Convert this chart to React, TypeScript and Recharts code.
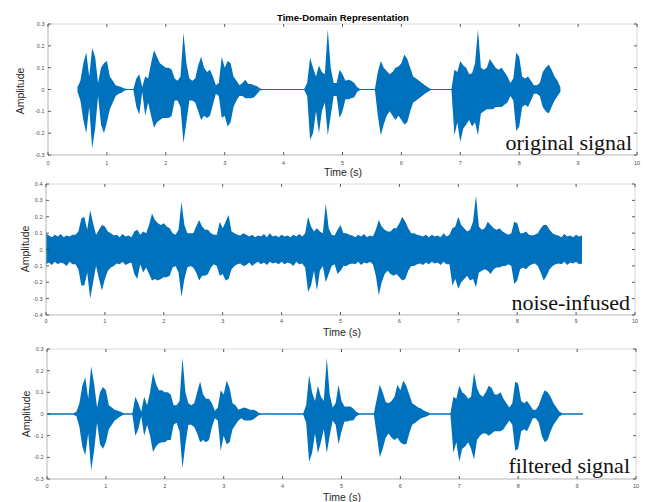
import { AreaChart, Area, XAxis, YAxis, ReferenceLine } from "recharts"

// sample spacing of the envelope arrays (seconds)
const STEP = 0.05
const timeTicks = [0, 1, 2, 3, 4, 5, 6, 7, 8, 9, 10]
const ampTicks3 = [-0.3, -0.2, -0.1, 0, 0.1, 0.2, 0.3]
const ampTicks4 = [-0.4, -0.3, -0.2, -0.1, 0, 0.1, 0.2, 0.3, 0.4]

// original signal: upper / lower envelope, one value every 0.05 s
const origHi = [
    null, null, null, null, null, null, null, null, null, null,
    0.01, 0.04, 0.12, 0.17, 0.06, 0.19, 0.15, 0.03, 0.10, 0.12,
    0.13, 0.06, 0.04, 0.02, 0.015, 0.01, 0.005, 0.002, 0.002, 0.002,
    0.05, 0.07, 0.01, 0.06, 0.05, 0.12, 0.18, 0.15, 0.12, 0.11,
    0.10, 0.10, 0.09, 0.05, 0.04, 0.06, 0.26, 0.12, 0.05, 0.04,
    0.05, 0.11, 0.15, 0.10, 0.08, 0.09, 0.06, 0.02, 0.03, 0.15,
    0.10, 0.13, 0.12, 0.06, 0.04, 0.02, 0.03, 0.045, 0.025, 0.025,
    0.02, 0.015, 0.005, 0.002, 0.002, 0.002, 0.002, 0.002, 0.002, 0.002,
    0.002, 0.002, 0.002, 0.002, 0.002, 0.002, 0.002, 0.002, 0.03, 0.145,
    0.10, 0.06, 0.11, 0.08, 0.07, 0.275, 0.10, 0.03, 0.03, 0.09,
    0.07, 0.04, 0.045, 0.04, 0.03, 0.01, 0.002, 0.002, 0.002, 0.002,
    0.002, 0.002, 0.08, 0.13, 0.10, 0.085, 0.07, 0.08, 0.10, 0.105,
    0.12, 0.16, 0.14, 0.10, 0.06, 0.05, 0.04, 0.03, 0.02, 0.01,
    0.002, 0.002, 0.002, 0.002, 0.002, 0.002, 0.002, 0.002, 0.09, 0.08,
    0.13, 0.11, 0.10, 0.07, 0.075, 0.12, 0.275, 0.10, 0.09, 0.10,
    0.14, 0.12, 0.10, 0.09, 0.10, 0.08, 0.06, 0.03, 0.05, 0.17,
    0.15, 0.06, 0.05, 0.06, 0.04, 0.02, 0.02, 0.03, 0.08, 0.10,
    0.115, 0.09, 0.06, 0.04, 0.01, null, null, null, null, null,
    null, null, null, null,
]
const origLo = [
    null, null, null, null, null, null, null, null, null, null,
    -0.01, -0.05, -0.14, -0.20, -0.08, -0.27, -0.18, -0.03, -0.16, -0.20,
    -0.15, -0.09, -0.06, -0.03, -0.02, -0.015, -0.005, -0.002, -0.002, -0.002,
    -0.08, -0.115, -0.01, -0.12, -0.06, -0.12, -0.175, -0.15, -0.14, -0.13,
    -0.13, -0.13, -0.12, -0.05, -0.05, -0.08, -0.245, -0.15, -0.05, -0.05,
    -0.06, -0.10, -0.14, -0.12, -0.13, -0.12, -0.07, -0.02, -0.03, -0.13,
    -0.12, -0.17, -0.15, -0.08, -0.05, -0.03, -0.03, -0.04, -0.04, -0.04,
    -0.035, -0.02, -0.005, -0.002, -0.002, -0.002, -0.002, -0.002, -0.002, -0.002,
    -0.002, -0.002, -0.002, -0.002, -0.002, -0.002, -0.002, -0.002, -0.03, -0.23,
    -0.20, -0.10, -0.20, -0.10, -0.06, -0.21, -0.12, -0.03, -0.03, -0.13,
    -0.10, -0.045, -0.045, -0.04, -0.035, -0.01, -0.002, -0.002, -0.002, -0.002,
    -0.002, -0.002, -0.12, -0.21, -0.16, -0.12, -0.10, -0.12, -0.14, -0.12,
    -0.14, -0.16, -0.15, -0.10, -0.06, -0.05, -0.04, -0.03, -0.02, -0.01,
    -0.002, -0.002, -0.002, -0.002, -0.002, -0.002, -0.002, -0.002, -0.21, -0.15,
    -0.24, -0.18, -0.16, -0.14, -0.17, -0.15, -0.21, -0.11, -0.10, -0.09,
    -0.09, -0.09, -0.08, -0.08, -0.08, -0.07, -0.06, -0.03, -0.05, -0.19,
    -0.17, -0.08, -0.07, -0.08, -0.05, -0.02, -0.02, -0.03, -0.08, -0.10,
    -0.11, -0.08, -0.05, -0.03, -0.01, null, null, null, null, null,
    null, null, null, null,
]

// noise-infused signal
const noisyHi = [
    0.10, 0.085, 0.075, 0.09, 0.08, 0.095, 0.075, 0.085, 0.08, 0.09,
    0.09, 0.11, 0.19, 0.20, 0.12, 0.24, 0.16, 0.09, 0.12, 0.15,
    0.14, 0.11, 0.10, 0.085, 0.09, 0.075, 0.095, 0.08, 0.085, 0.075,
    0.11, 0.12, 0.09, 0.11, 0.10, 0.15, 0.22, 0.18, 0.16, 0.15,
    0.16, 0.14, 0.13, 0.10, 0.09, 0.12, 0.29, 0.15, 0.10, 0.10,
    0.10, 0.14, 0.18, 0.14, 0.12, 0.12, 0.10, 0.09, 0.09, 0.17,
    0.13, 0.17, 0.21, 0.11, 0.10, 0.09, 0.085, 0.10, 0.09, 0.08,
    0.09, 0.075, 0.085, 0.08, 0.095, 0.075, 0.10, 0.08, 0.085, 0.075,
    0.09, 0.08, 0.085, 0.075, 0.09, 0.08, 0.095, 0.08, 0.10, 0.20,
    0.14, 0.11, 0.13, 0.11, 0.10, 0.28, 0.13, 0.09, 0.085, 0.12,
    0.15, 0.10, 0.10, 0.09, 0.085, 0.075, 0.09, 0.08, 0.095, 0.075,
    0.085, 0.08, 0.12, 0.18, 0.14, 0.12, 0.11, 0.11, 0.13, 0.13,
    0.16, 0.20, 0.17, 0.13, 0.10, 0.10, 0.09, 0.085, 0.08, 0.09,
    0.075, 0.09, 0.08, 0.085, 0.075, 0.10, 0.08, 0.09, 0.13, 0.14,
    0.20, 0.15, 0.13, 0.11, 0.12, 0.17, 0.33, 0.14, 0.12, 0.13,
    0.17, 0.15, 0.13, 0.12, 0.13, 0.11, 0.10, 0.09, 0.10, 0.17,
    0.16, 0.10, 0.10, 0.11, 0.09, 0.085, 0.09, 0.10, 0.13, 0.15,
    0.15, 0.12, 0.10, 0.09, 0.085, 0.075, 0.095, 0.08, 0.085, 0.075,
    0.09, 0.08, 0.085, null,
]
const noisyLo = [
    -0.09, -0.08, -0.095, -0.075, -0.09, -0.08, -0.085, -0.10, -0.075, -0.09,
    -0.09, -0.12, -0.22, -0.22, -0.14, -0.30, -0.20, -0.10, -0.18, -0.25,
    -0.18, -0.13, -0.11, -0.10, -0.085, -0.09, -0.075, -0.095, -0.085, -0.08,
    -0.15, -0.18, -0.09, -0.14, -0.11, -0.15, -0.19, -0.18, -0.19, -0.18,
    -0.17, -0.17, -0.16, -0.11, -0.10, -0.14, -0.29, -0.18, -0.11, -0.10,
    -0.11, -0.14, -0.19, -0.16, -0.16, -0.15, -0.11, -0.09, -0.10, -0.16,
    -0.15, -0.19, -0.18, -0.12, -0.10, -0.09, -0.085, -0.10, -0.095, -0.08,
    -0.10, -0.085, -0.075, -0.09, -0.08, -0.095, -0.075, -0.085, -0.08, -0.09,
    -0.075, -0.09, -0.08, -0.085, -0.10, -0.075, -0.09, -0.085, -0.11, -0.26,
    -0.22, -0.13, -0.25, -0.13, -0.10, -0.20, -0.15, -0.10, -0.09, -0.15,
    -0.13, -0.10, -0.10, -0.09, -0.085, -0.09, -0.075, -0.095, -0.08, -0.085,
    -0.075, -0.09, -0.16, -0.28, -0.20, -0.15, -0.13, -0.15, -0.16, -0.15,
    -0.17, -0.19, -0.18, -0.13, -0.10, -0.10, -0.09, -0.085, -0.095, -0.08,
    -0.09, -0.075, -0.085, -0.08, -0.095, -0.075, -0.09, -0.09, -0.22, -0.18,
    -0.24, -0.20, -0.18, -0.16, -0.19, -0.18, -0.23, -0.14, -0.13, -0.12,
    -0.13, -0.15, -0.12, -0.11, -0.11, -0.10, -0.10, -0.09, -0.10, -0.21,
    -0.19, -0.12, -0.11, -0.12, -0.10, -0.09, -0.085, -0.10, -0.14, -0.19,
    -0.16, -0.12, -0.10, -0.09, -0.085, -0.09, -0.075, -0.095, -0.08, -0.085,
    -0.075, -0.09, -0.085, null,
]

// filtered signal
const filtHi = [
    0.003, 0.003, 0.003, 0.003, 0.003, 0.003, 0.003, 0.003, 0.003, 0.003,
    0.01, 0.05, 0.13, 0.17, 0.07, 0.22, 0.14, 0.03, 0.10, 0.125,
    0.11, 0.04, 0.03, 0.02, 0.015, 0.01, 0.003, 0.003, 0.003, 0.003,
    0.08, 0.05, 0.01, 0.08, 0.04, 0.10, 0.19, 0.14, 0.11, 0.11,
    0.10, 0.10, 0.09, 0.04, 0.04, 0.06, 0.26, 0.10, 0.05, 0.04,
    0.05, 0.10, 0.15, 0.09, 0.07, 0.07, 0.05, 0.015, 0.03, 0.11,
    0.09, 0.155, 0.12, 0.05, 0.04, 0.02, 0.025, 0.03, 0.025, 0.02,
    0.02, 0.015, 0.005, 0.003, 0.003, 0.003, 0.003, 0.003, 0.003, 0.003,
    0.003, 0.003, 0.003, 0.003, 0.003, 0.003, 0.003, 0.003, 0.04, 0.18,
    0.10, 0.06, 0.13, 0.08, 0.06, 0.26, 0.09, 0.03, 0.05, 0.135,
    0.06, 0.035, 0.035, 0.035, 0.025, 0.01, 0.003, 0.003, 0.003, 0.003,
    0.003, 0.003, 0.07, 0.135, 0.10, 0.055, 0.05, 0.06, 0.08, 0.135,
    0.11, 0.155, 0.13, 0.09, 0.05, 0.04, 0.03, 0.025, 0.015, 0.01,
    0.003, 0.003, 0.003, 0.003, 0.003, 0.003, 0.003, 0.003, 0.08, 0.07,
    0.13, 0.10, 0.09, 0.07, 0.08, 0.19, 0.12, 0.09, 0.08, 0.10,
    0.13, 0.12, 0.09, 0.09, 0.10, 0.07, 0.05, 0.03, 0.05, 0.15,
    0.14, 0.06, 0.05, 0.06, 0.04, 0.02, 0.02, 0.04, 0.08, 0.11,
    0.10, 0.08, 0.05, 0.03, 0.01, 0.003, 0.003, 0.003, 0.003, 0.003,
    0.003, 0.003, 0.003, null,
]
const filtLo = [
    -0.003, -0.003, -0.003, -0.003, -0.003, -0.003, -0.003, -0.003, -0.003, -0.003,
    -0.01, -0.06, -0.15, -0.19, -0.09, -0.26, -0.17, -0.04, -0.14, -0.16,
    -0.13, -0.07, -0.05, -0.03, -0.02, -0.01, -0.003, -0.003, -0.003, -0.003,
    -0.10, -0.07, -0.01, -0.10, -0.05, -0.10, -0.175, -0.15, -0.135, -0.13,
    -0.13, -0.12, -0.12, -0.05, -0.04, -0.08, -0.25, -0.14, -0.05, -0.05,
    -0.06, -0.09, -0.13, -0.12, -0.13, -0.12, -0.06, -0.02, -0.03, -0.17,
    -0.10, -0.14, -0.13, -0.07, -0.05, -0.03, -0.02, -0.03, -0.03, -0.03,
    -0.025, -0.015, -0.005, -0.003, -0.003, -0.003, -0.003, -0.003, -0.003, -0.003,
    -0.003, -0.003, -0.003, -0.003, -0.003, -0.003, -0.003, -0.003, -0.04, -0.22,
    -0.18, -0.09, -0.18, -0.13, -0.07, -0.18, -0.10, -0.03, -0.05, -0.14,
    -0.08, -0.035, -0.035, -0.03, -0.03, -0.01, -0.003, -0.003, -0.003, -0.003,
    -0.003, -0.003, -0.10, -0.20, -0.16, -0.11, -0.09, -0.11, -0.12, -0.11,
    -0.13, -0.14, -0.14, -0.09, -0.05, -0.04, -0.03, -0.02, -0.015, -0.01,
    -0.003, -0.003, -0.003, -0.003, -0.003, -0.003, -0.003, -0.003, -0.18, -0.13,
    -0.22, -0.16, -0.15, -0.13, -0.16, -0.21, -0.12, -0.10, -0.09, -0.09,
    -0.10, -0.09, -0.08, -0.08, -0.08, -0.07, -0.05, -0.03, -0.05, -0.17,
    -0.16, -0.08, -0.07, -0.08, -0.05, -0.02, -0.02, -0.04, -0.10, -0.13,
    -0.12, -0.08, -0.05, -0.03, -0.01, -0.003, -0.003, -0.003, -0.003, -0.003,
    -0.003, -0.003, -0.003, null,
]

const toRows = (hi: (number | null)[], lo: (number | null)[]) =>
    hi.map((h, i) => ({
        t: Math.round(i * STEP * 100) / 100,
        range: h == null || lo[i] == null ? null : [lo[i], h],
    }))

const W = 646
const BLUE = "#0072BD"

type PanelProps = {
    top: number
    height: number
    left: number
    right: number
    plotTop: number
    plotBottom: number
    xLabelY: number
    domain: [number, number]
    ticks: number[]
    data: any[]
}

function Panel(p: PanelProps) {
    const pt = p.plotTop - p.top
    const pb = p.plotBottom - p.top
    const xLab = p.xLabelY - p.top

    const xTick = ({ x, payload }: any) => (
        <g>
            <line x1={x} x2={x} y1={pb} y2={pb - 3} stroke="#333" strokeWidth={0.8} />
            <line x1={x} x2={x} y1={pt} y2={pt + 3} stroke="#333" strokeWidth={0.8} />
            <text x={x} y={xLab} textAnchor="middle" fontSize={5.5} fill="#4d4d4d">
                {payload.value}
            </text>
        </g>
    )
    const yTick = ({ y, payload }: any) => (
        <g>
            <line x1={p.left} x2={p.left + 3} y1={y} y2={y} stroke="#333" strokeWidth={0.8} />
            <line x1={p.right - 3} x2={p.right} y1={y} y2={y} stroke="#333" strokeWidth={0.8} />
            <text x={p.left - 3.5} y={y + 2} textAnchor="end" fontSize={5.5} fill="#4d4d4d">
                {payload.value === 0 ? "0" : String(payload.value)}
            </text>
        </g>
    )

    return (
        <div style={{ position: "absolute", left: 0, top: p.top }}>
            <AreaChart
                width={W}
                height={p.height}
                data={p.data}
                margin={{ top: pt, right: W - p.right, bottom: 0, left: p.left - 40 }}
            >
                <XAxis
                    type="number"
                    dataKey="t"
                    domain={[0, 10]}
                    ticks={timeTicks}
                    interval={0}
                    tickLine={false}
                    tickSize={0}
                    height={p.height - pb}
                    tick={xTick}
                    axisLine={{ stroke: "#b5b5b5" }}
                    allowDataOverflow
                />
                <YAxis
                    type="number"
                    domain={p.domain}
                    ticks={p.ticks}
                    interval={0}
                    width={40}
                    tickLine={false}
                    tickSize={0}
                    tick={yTick}
                    axisLine={{ stroke: "#b5b5b5" }}
                    allowDataOverflow
                />
                <ReferenceLine y={p.domain[1]} stroke="#dadada" />
                <ReferenceLine x={10} stroke="#dadada" />
                <Area
                    dataKey="range"
                    type="linear"
                    stroke="none"
                    fill={BLUE}
                    fillOpacity={1}
                    dot={false}
                    activeDot={false}
                    isAnimationActive={false}
                />
            </AreaChart>
        </div>
    )
}

export default function App() {
    const sans = "'Liberation Sans', Arial, sans-serif"
    const serif = "'Liberation Serif', 'Times New Roman', serif"
    return (
        <div style={{ position: "absolute", left: 0, top: 0, width: W, height: 502, background: "#fff", fontFamily: sans }}>
            <Panel top={0} height={172} left={48} right={637} plotTop={24} plotBottom={155} xLabelY={164.7}
                domain={[-0.3, 0.3]} ticks={ampTicks3} data={toRows(origHi, origLo)} />
            <Panel top={172} height={155} left={46} right={635} plotTop={184} plotBottom={315} xLabelY={322.7}
                domain={[-0.4, 0.4]} ticks={ampTicks4} data={toRows(noisyHi, noisyLo)} />
            <Panel top={335} height={156} left={47} right={636} plotTop={349} plotBottom={479} xLabelY={487.7}
                domain={[-0.3, 0.3]} ticks={ampTicks3} data={toRows(filtHi, filtLo)} />

            {/* titles, axis labels and annotations */}
            <svg width={W} height={502} style={{ position: "absolute", left: 0, top: 0, pointerEvents: "none" }}>
                <text x={343} y={20.5} textAnchor="middle" fontSize={9.5} fontWeight="bold" fill="#000">
                    Time-Domain Representation
                </text>

                <text transform="translate(24,91) rotate(-90)" textAnchor="middle" fontSize={10.5} fill="#262626">Amplitude</text>
                <text transform="translate(29,249) rotate(-90)" textAnchor="middle" fontSize={10.5} fill="#262626">Amplitude</text>
                <text transform="translate(30,414) rotate(-90)" textAnchor="middle" fontSize={10.5} fill="#262626">Amplitude</text>

                <text x={343} y={176} textAnchor="middle" fontSize={10.5} fill="#262626">Time (s)</text>
                <text x={342} y={336} textAnchor="middle" fontSize={10.5} fill="#262626">Time (s)</text>
                <text x={342} y={500.5} textAnchor="middle" fontSize={10.5} fill="#262626">Time (s)</text>

                <text x={632} y={150} textAnchor="end" fontSize={22} fontFamily={serif} fill="#111">original signal</text>
                <text x={630} y={310} textAnchor="end" fontSize={22} fontFamily={serif} fill="#111">noise-infused</text>
                <text x={630} y={473} textAnchor="end" fontSize={22} fontFamily={serif} fill="#111">filtered signal</text>
            </svg>
        </div>
    )
}
